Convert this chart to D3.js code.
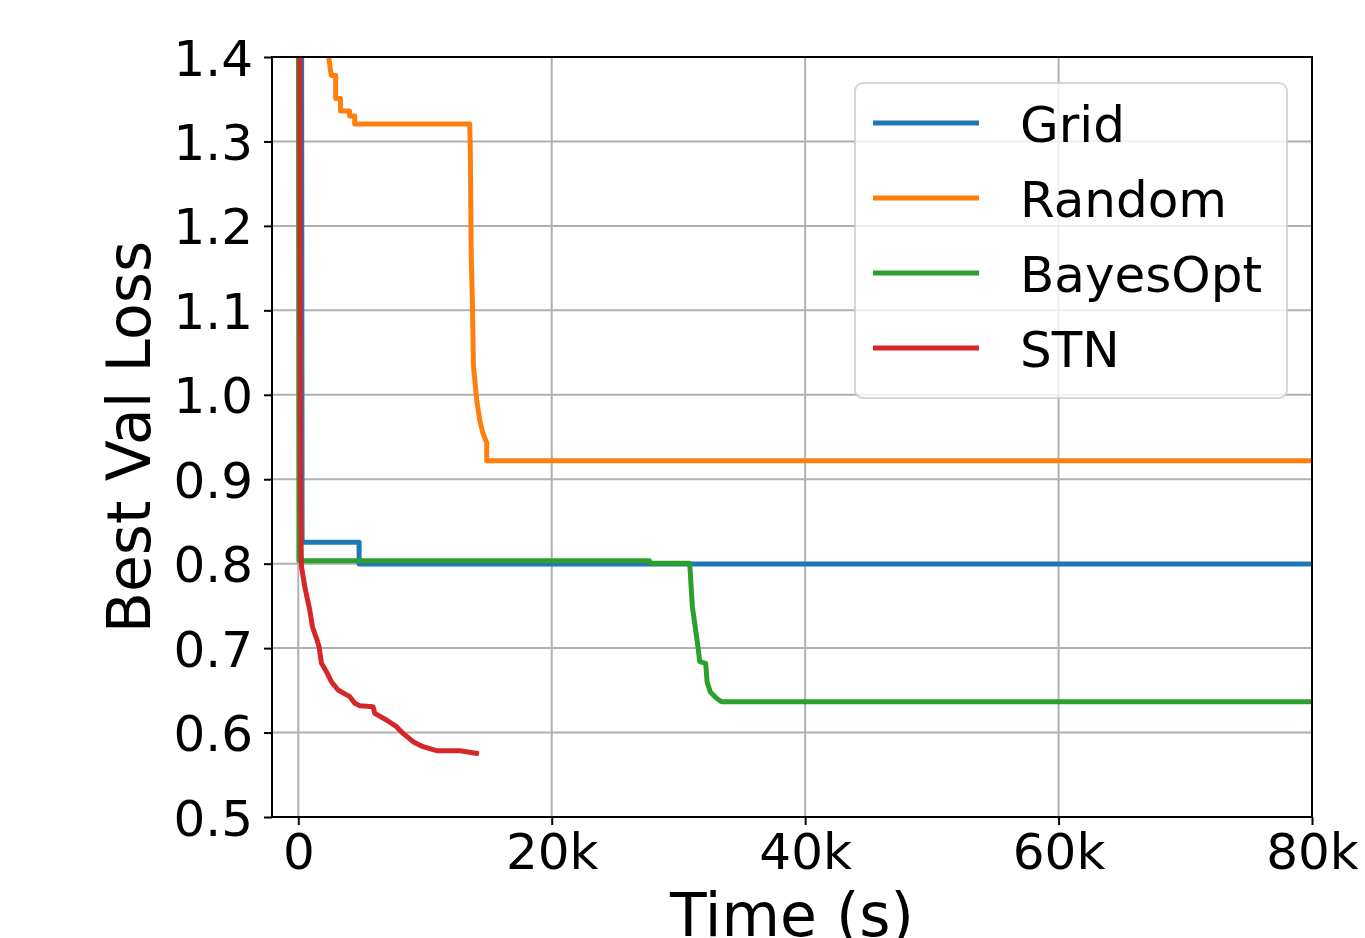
<!DOCTYPE html>
<html>
<head>
<meta charset="utf-8">
<script src="https://cdn.jsdelivr.net/npm/d3@7"></script>
<style>
  body { margin: 0; background: #fff; }
  text { font-family: "DejaVu Sans", sans-serif; fill: #000; }
</style>
</head>
<body>
<div id="chart-container"></div>
<script>
// series (time in seconds, best validation loss)
const gridTime = [250, 300, 4800, 4800, 80000];
const gridLoss = [1.6, 0.8253, 0.8253, 0.7996, 0.7996];

const randomTime = [2300, 2400, 2600, 2600, 2950, 2950, 3330, 3330, 4050, 4050, 4450, 4450,
  13530, 13580, 13650, 13740, 13820, 14080, 14320, 14560, 14870, 14870, 80000];
const randomLoss = [1.45, 1.4, 1.378, 1.378, 1.378, 1.351, 1.351, 1.336, 1.336, 1.330, 1.330, 1.3207,
  1.3207, 1.284, 1.162, 1.109, 1.035, 0.994, 0.970, 0.955, 0.943, 0.922, 0.922];

const bayesTime = [0, 50, 27700, 27800, 30890, 31100, 31540, 31680, 32150, 32260, 32520, 33000, 33390, 80000];
const bayesLoss = [1.7, 0.8035, 0.8035, 0.8005, 0.8005, 0.749, 0.7017, 0.684, 0.682, 0.660, 0.648, 0.6406, 0.6366, 0.6366];

const stnTime = [80, 170, 220, 252, 513, 907, 1120, 1436, 1641, 1830, 2225, 2620, 3140, 3535,
  4063, 4458, 4853, 5900, 6036, 6959, 7748, 8269, 9058, 9847, 10904, 12742, 14060];
const stnLoss = [1.7, 0.905, 0.825, 0.7964, 0.7727, 0.745, 0.725, 0.7116, 0.7017, 0.682, 0.672, 0.660, 0.6504, 0.647,
  0.6425, 0.6347, 0.6318, 0.6306, 0.6228, 0.6149, 0.607, 0.599, 0.5892, 0.5833, 0.5785, 0.5785, 0.5754];

const seriesNames = ["Grid", "Random", "BayesOpt", "STN"];
const seriesColors = ["#1f77b4", "#ff7f0e", "#2ca02c", "#d62728"];

const xTicks = [0, 20000, 40000, 60000, 80000];
const xTickLabels = ["0", "20k", "40k", "60k", "80k"];
const yTicks = [0.5, 0.6, 0.7, 0.8, 0.9, 1.0, 1.1, 1.2, 1.3, 1.4];

const width = 1365;
const height = 938;
const plot = {left: 272, right: 1312, top: 57, bottom: 817};

const series = [
  {name: seriesNames[0], t: gridTime, v: gridLoss},
  {name: seriesNames[1], t: randomTime, v: randomLoss},
  {name: seriesNames[2], t: bayesTime, v: bayesLoss},
  {name: seriesNames[3], t: stnTime, v: stnLoss}
];

const svg = d3.select("#chart-container")
  .append("svg")
  .attr("width", width)
  .attr("height", height);

const x = d3.scaleLinear().domain([-2075, 80000]).range([plot.left, plot.right]);
const y = d3.scaleLinear().domain([0.5, 1.4]).range([plot.bottom, plot.top]);

svg.append("defs").append("clipPath")
  .attr("id", "plot-clip")
  .append("rect")
  .attr("x", plot.left)
  .attr("y", plot.top)
  .attr("width", plot.right - plot.left)
  .attr("height", plot.bottom - plot.top);

// grid
const gridG = svg.append("g");
gridG.selectAll("line.vx")
  .data(xTicks)
  .enter()
  .append("line")
  .attr("x1", d => x(d)).attr("x2", d => x(d))
  .attr("y1", plot.top).attr("y2", plot.bottom)
  .style("stroke", "#b0b0b0")
  .style("stroke-width", 2);
gridG.selectAll("line.hy")
  .data(yTicks)
  .enter()
  .append("line")
  .attr("x1", plot.left).attr("x2", plot.right)
  .attr("y1", d => y(d)).attr("y2", d => y(d))
  .style("stroke", "#b0b0b0")
  .style("stroke-width", 2);

// lines
const lineGen = d3.line()
  .x(d => x(d[0]))
  .y(d => y(d[1]));

svg.append("g")
  .attr("clip-path", "url(#plot-clip)")
  .selectAll("path")
  .data(series)
  .enter()
  .append("path")
  .attr("d", s => lineGen(s.t.map((t, i) => [t, s.v[i]])))
  .style("fill", "none")
  .style("stroke", (_, i) => seriesColors[i])
  .style("stroke-width", 5)
  .style("stroke-linejoin", "round")
  .style("stroke-linecap", "square");

// axes
const xAxis = d3.axisBottom(x)
  .tickValues(xTicks)
  .tickFormat((d, i) => xTickLabels[i])
  .tickSize(8)
  .tickPadding(7)
  .tickSizeOuter(0);
const yAxis = d3.axisLeft(y)
  .tickValues(yTicks)
  .tickFormat(d3.format(".1f"))
  .tickSize(8)
  .tickPadding(11)
  .tickSizeOuter(0);

const gx = svg.append("g")
  .attr("transform", `translate(0, ${plot.bottom})`)
  .call(xAxis);
const gy = svg.append("g")
  .attr("transform", `translate(${plot.left}, 0)`)
  .call(yAxis);

[gx, gy].forEach(g => {
  g.select(".domain").remove();
  g.selectAll(".tick line").style("stroke", "#000").style("stroke-width", 2);
  g.selectAll(".tick text")
    .style("font-family", "'DejaVu Sans', sans-serif")
    .style("font-size", "50px")
    .style("fill", "#000");
});
gx.selectAll(".tick text").attr("dy", "0.74em");
gy.selectAll(".tick text").attr("dy", "0.36em");

// spines
svg.append("rect")
  .attr("x", plot.left)
  .attr("y", plot.top)
  .attr("width", plot.right - plot.left)
  .attr("height", plot.bottom - plot.top)
  .style("fill", "none")
  .style("stroke", "#000")
  .style("stroke-width", 2);

// axis labels
svg.append("text")
  .attr("x", (plot.left + plot.right) / 2)
  .attr("y", 936)
  .attr("text-anchor", "middle")
  .style("font-size", "60px")
  .text("Time (s)");

svg.append("text")
  .attr("transform", `translate(150, ${(plot.top + plot.bottom) / 2}) rotate(-90)`)
  .attr("text-anchor", "middle")
  .style("font-size", "60px")
  .text("Best Val Loss");

// legend
const legend = svg.append("g");
legend.append("rect")
  .attr("x", 855).attr("y", 83)
  .attr("width", 432).attr("height", 315)
  .attr("rx", 8)
  .style("fill", "#fff")
  .style("fill-opacity", 0.8)
  .style("stroke", "#cccccc")
  .style("stroke-opacity", 0.8)
  .style("stroke-width", 2);

const legendRow = legend.selectAll("g.row")
  .data(seriesNames)
  .enter()
  .append("g")
  .attr("transform", (_, i) => `translate(0, ${123 + i * 75})`);
legendRow.append("line")
  .attr("x1", 873).attr("x2", 979)
  .attr("y1", 0).attr("y2", 0)
  .style("stroke", (_, i) => seriesColors[i])
  .style("stroke-width", 5);
legendRow.append("text")
  .attr("x", 1020)
  .attr("y", 18.5)
  .style("font-size", "50px")
  .text(d => d);
</script>
</body>
</html>
